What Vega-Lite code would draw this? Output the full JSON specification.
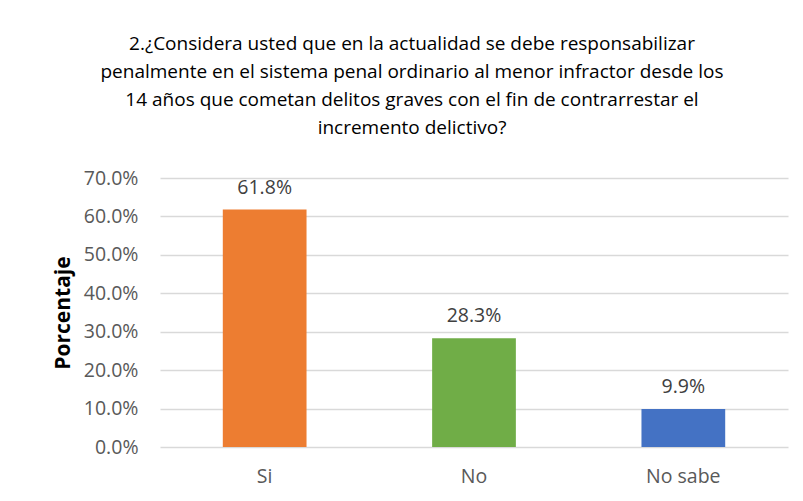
{
  "$schema": "https://vega.github.io/schema/vega-lite/v6.json",
  "width": 628,
  "height": 269,
  "autosize": {"type": "none"},
  "padding": {"left": 160, "top": 178, "right": 15, "bottom": 54},
  "background": "white",
  "title": {
    "text": [
      "2.¿Considera usted que en la actualidad se debe responsabilizar",
      "penalmente en el sistema penal ordinario al menor infractor desde los",
      "14 años que cometan delitos graves con el fin de contrarrestar el",
      "incremento delictivo?"
    ],
    "anchor": "middle",
    "frame": "group",
    "dx": -62,
    "offset": 30,
    "font": "Open Sans",
    "fontSize": 19,
    "fontWeight": "normal",
    "color": "#000000",
    "lineHeight": 28
  },
  "data": {
    "values": [
      {"respuesta": "Si", "porcentaje": 0.618},
      {"respuesta": "No", "porcentaje": 0.283},
      {"respuesta": "No sabe", "porcentaje": 0.099}
    ]
  },
  "encoding": {
    "x": {
      "field": "respuesta",
      "type": "nominal",
      "sort": ["Si", "No", "No sabe"],
      "scale": {"paddingInner": 0.6, "paddingOuter": 0.3},
      "axis": {
        "title": null,
        "labelAngle": 0,
        "labelFont": "Open Sans",
        "labelFontSize": 19.5,
        "labelColor": "#595959",
        "labelPadding": 20,
        "ticks": false,
        "domain": false
      }
    },
    "y": {
      "field": "porcentaje",
      "type": "quantitative",
      "scale": {"domain": [0, 0.7]},
      "axis": {
        "title": "Porcentaje",
        "titleFont": "Open Sans",
        "titleFontSize": 21,
        "titleFontWeight": "bold",
        "titleColor": "#000000",
        "titlePadding": 10,
        "format": ".1%",
        "values": [0, 0.1, 0.2, 0.3, 0.4, 0.5, 0.6, 0.7],
        "labelFont": "Open Sans",
        "labelFontSize": 19.5,
        "labelColor": "#595959",
        "labelPadding": 22,
        "ticks": false,
        "domain": false,
        "grid": true,
        "gridColor": "#d9d9d9",
        "gridWidth": 1.3
      }
    }
  },
  "layer": [
    {
      "mark": {"type": "bar"},
      "encoding": {
        "color": {
          "field": "respuesta",
          "type": "nominal",
          "scale": {"domain": ["Si", "No", "No sabe"], "range": ["#ED7D31", "#70AD47", "#4472C4"]},
          "legend": null
        }
      }
    },
    {
      "mark": {
        "type": "text",
        "baseline": "bottom",
        "dy": -12,
        "font": "Open Sans",
        "fontSize": 19.5,
        "color": "#404040"
      },
      "encoding": {
        "text": {"field": "porcentaje", "type": "quantitative", "format": ".1%"}
      }
    }
  ],
  "config": {
    "view": {"stroke": null}
  }
}
